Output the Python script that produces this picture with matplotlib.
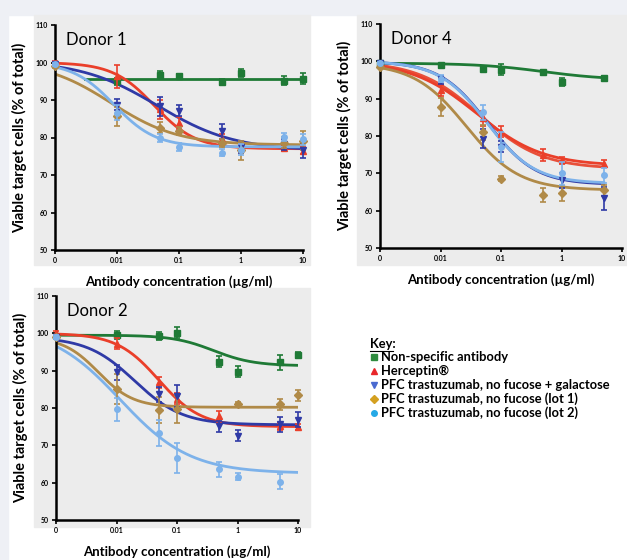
import matplotlib
matplotlib.use('Agg')
import matplotlib.pyplot as plt
from matplotlib.patches import Rectangle
from matplotlib.lines import Line2D
import numpy as np

plt.rcParams['font.family'] = ['Lato', 'DejaVu Sans']

# concentrations (ug/ml); 0 is drawn at 0.001 on the log axis
conc = [0, 0.01, 0.05, 0.1, 0.5, 1, 5, 10]
nan = np.nan

series_names = ['Non-specific antibody', 'Herceptin\u00ae',
                'PFC trastuzumab, no fucose + galactose',
                'PFC trastuzumab, no fucose (lot 1)',
                'PFC trastuzumab, no fucose (lot 2)']
line_colors = ['#1f7a36', '#ea3f2a', '#2f3aa6', '#b08a48', '#7db2ea']
key_colors = ['#2e8b3e', '#e8262a', '#4a6ad0', '#d4a020', '#25a9e6']
markers = ['s', '^', 'v', 'D', 'o']

# Donor 1: mean values and error per series
d1_vals = [
    [nan, 95.0, 96.7, 96.3, 94.8, 97.2, 95.1, 95.7],
    [100.0, 96.3, 87.5, 83.9, 79.5, 77.3, 77.3, 76.5],
    [99.5, 88.8, 88.3, 87.2, 81.7, 77.5, 78.2, 76.6],
    [99.0, 85.7, 82.6, 81.7, 78.6, 76.6, 78.6, 79.2],
    [99.5, 86.6, 79.9, 77.5, 76.0, 76.8, 80.1, 79.5],
]
d1_err = [
    [0, 1.0, 1.0, 0.6, 0.8, 1.0, 1.2, 1.5],
    [0.5, 3.0, 2.5, 1.5, 1.5, 1.0, 0.8, 1.0],
    [0.5, 1.5, 2.5, 1.5, 2.0, 1.5, 1.5, 2.0],
    [0.5, 2.5, 1.5, 1.0, 1.0, 2.5, 1.5, 2.5],
    [0.5, 2.0, 1.0, 1.0, 1.0, 1.5, 1.0, 1.5],
]
# fitted curves: top, bottom, ec50, hill, start
d1_fit = [
    [95.5, 95.5, 0.05, 1.0, 0.003],
    [100.0, 77.0, 0.04, 1.3, 0.001],
    [100.5, 76.5, 0.045, 0.7, 0.001],
    [100.5, 78.0, 0.008, 0.8, 0.001],
    [100.0, 77.5, 0.009, 1.3, 0.001],
]

# Donor 4
d4_vals = [
    [99.5, 98.9, 98.0, 97.8, 97.1, 94.5, 95.6, nan],
    [99.5, 92.2, 84.7, 81.1, 74.9, 73.5, 72.6, nan],
    [99.5, 95.0, 79.3, 77.1, nan, 68.2, 63.3, nan],
    [98.5, 87.8, 81.0, 68.6, 64.2, 64.6, 65.5, nan],
    [99.5, 95.4, 86.4, 77.1, nan, 70.0, 69.5, nan],
]
d4_err = [
    [0.3, 0.5, 0.5, 1.5, 0.6, 1.0, 0.4, 0],
    [0.3, 1.5, 2.0, 1.5, 1.5, 1.0, 1.0, 0],
    [0.3, 1.0, 2.5, 1.5, 0, 2.0, 3.0, 0],
    [0.3, 2.5, 2.0, 0.7, 2.0, 2.0, 1.5, 0],
    [0.3, 1.0, 2.0, 4.0, 0, 3.0, 2.0, 0],
]
d4_fit = [
    [99.5, 95.0, 0.5, 0.8, 0.001],
    [100.0, 72.0, 0.04, 0.8, 0.001],
    [100.0, 67.0, 0.06, 1.1, 0.001],
    [99.5, 65.5, 0.027, 1.0, 0.001],
    [100.0, 67.3, 0.058, 1.1, 0.001],
]
d4_extra_fit = [100.0, 71.2, 0.045, 0.85, 0.001]  # second red curve

# Donor 2
d2_vals = [
    [nan, 99.6, 99.3, 100.2, 92.4, 89.7, 92.3, 94.1],
    [100.0, 97.2, 86.9, 82.5, 77.8, nan, 75.1, 75.0],
    [99.0, 89.6, 83.7, 83.2, 75.1, 72.6, 75.6, 76.9],
    [99.0, 85.1, 79.5, 79.6, nan, 81.2, 81.0, 83.4],
    [99.0, 79.6, 73.3, 66.6, 63.6, 61.6, nan, 60.3],
]
d2_err = [
    [0, 1.0, 1.0, 1.5, 1.5, 1.5, 2.0, 0.8],
    [0.5, 1.5, 1.5, 1.5, 1.5, 0, 1.0, 0.8],
    [0.5, 2.0, 2.0, 3.0, 1.5, 1.5, 2.0, 2.0],
    [0.5, 4.0, 3.5, 3.5, 0, 0.3, 1.5, 1.5],
    [0.5, 3.0, 3.5, 4.0, 2.0, 1.0, 0, 2.0],
]
d2_fit = [
    [99.5, 91.3, 0.4, 1.3, 0.001],
    [100.0, 75.0, 0.05, 1.25, 0.001],
    [99.0, 75.5, 0.02, 1.1, 0.001],
    [99.0, 80.2, 0.005, 1.5, 0.001],
    [102.0, 62.5, 0.0115, 0.75, 0.001],
]
# light blue in donor 2 plotted at 5 instead of 10
d2_x_override = {4: [0, 0.01, 0.05, 0.1, 0.5, 1, nan, 5]}

W, H = 627, 560
fig = plt.figure(figsize=(W / 100, H / 100), dpi=100)
fig.patch.set_facecolor('white')

def px_rect(x0, y0, x1, y1, color):
    fig.patches.append(Rectangle((x0 / W, 1 - y1 / H), (x1 - x0) / W, (y1 - y0) / H,
                                 transform=fig.transFigure, color=color, zorder=-10))

px_rect(0, 0, W, 15, '#eef0f5')
px_rect(0, 0, 8, H, '#eef0f5')
px_rect(34, 15, 310, 265, '#ececec')
px_rect(357, 15, 627, 265, '#ececec')
px_rect(34, 288, 310, 527, '#ececec')


def logistic(x, top, bottom, ec50, hill):
    return bottom + (top - bottom) / (1 + (x / ec50) ** hill)


def draw_panel(rect, title, vals, errs, fits, xmax_curve, xs_override=None, extra=None):
    ax = fig.add_axes(rect)
    ax.set_facecolor('none')
    ax.set_xscale('log')
    ax.set_xlim(0.001, 10)
    ax.set_ylim(50, 110)
    for i in range(5):
        xs = np.array(conc, dtype=float)
        if xs_override and i in xs_override:
            xs = np.array(xs_override[i], dtype=float)
        xs = np.where(xs == 0, 0.001, xs)
        top, bottom, ec50, hill, start = fits[i]
        xc = np.logspace(np.log10(start), np.log10(xmax_curve), 300)
        ax.plot(xc, logistic(xc, top, bottom, ec50, hill), color=line_colors[i], lw=2.0,
                zorder=2 + i * 0.1)
        v = np.array(vals[i], dtype=float)
        e = np.array(errs[i], dtype=float)
        ok = ~np.isnan(v) & ~np.isnan(xs)
        ax.errorbar(xs[ok], v[ok], yerr=e[ok], fmt=markers[i], color=line_colors[i],
                    ms=4, capsize=2.5, elinewidth=1.2, capthick=1.2, clip_on=False,
                    zorder=3 + i * 0.1)
    if extra is not None:
        top, bottom, ec50, hill, start = extra
        xc = np.logspace(np.log10(start), np.log10(xmax_curve), 300)
        ax.plot(xc, logistic(xc, top, bottom, ec50, hill), color='#e8503a', lw=2.0, zorder=2.05)
    for s in ['top', 'right']:
        ax.spines[s].set_visible(False)
    for s in ['left', 'bottom']:
        ax.spines[s].set_linewidth(1.8)
    ax.set_xticks([0.001, 0.01, 0.1, 1, 10])
    ax.set_xticklabels(['0', '0.01', '0.1', '1', '10'])
    ax.xaxis.set_minor_locator(matplotlib.ticker.NullLocator())
    ax.set_yticks([50, 60, 70, 80, 90, 100, 110])
    ax.tick_params(labelsize=5, width=1.2, length=3, pad=2)
    for lab in ax.get_xticklabels() + ax.get_yticklabels():
        lab.set_fontweight('bold')
    ax.set_xlabel('Antibody concentration (\u00b5g/ml)', fontsize=9.5, fontweight='bold', labelpad=8)
    ax.set_ylabel('Viable target cells (% of total)', fontsize=10.5, fontweight='bold', labelpad=6)
    ax.text(0.045, 0.97, title, transform=ax.transAxes, fontsize=12, va='top', ha='left')
    return ax


draw_panel([55 / W, 1 - 250 / H, 248 / W, 225 / H], 'Donor 1', d1_vals, d1_err, d1_fit, 10)
draw_panel([380 / W, 1 - 248 / H, 242 / W, 224 / H], 'Donor 4', d4_vals, d4_err, d4_fit, 5,
           extra=d4_extra_fit)
draw_panel([56 / W, 1 - 520 / H, 242 / W, 224 / H], 'Donor 2', d2_vals, d2_err, d2_fit, 10,
           xs_override=d2_x_override)

# key
fig.text(370 / W, 1 - 344 / H, 'Key:', fontsize=9.3, fontweight='bold', va='center', ha='left')
fig.add_artist(Line2D([370 / W, 393 / W], [1 - 350.5 / H, 1 - 350.5 / H], color='black', lw=0.8,
                      transform=fig.transFigure))
ys = [357, 371, 385, 399, 413]
for i in range(5):
    fig.add_artist(Line2D([374 / W], [1 - ys[i] / H], marker=markers[i], color=key_colors[i],
                          ms=4, transform=fig.transFigure, linestyle='none'))
    fig.text(381 / W, 1 - ys[i] / H, series_names[i], fontsize=9.3, fontweight='bold',
             va='center', ha='left')

fig.savefig('out.png', dpi=100)
